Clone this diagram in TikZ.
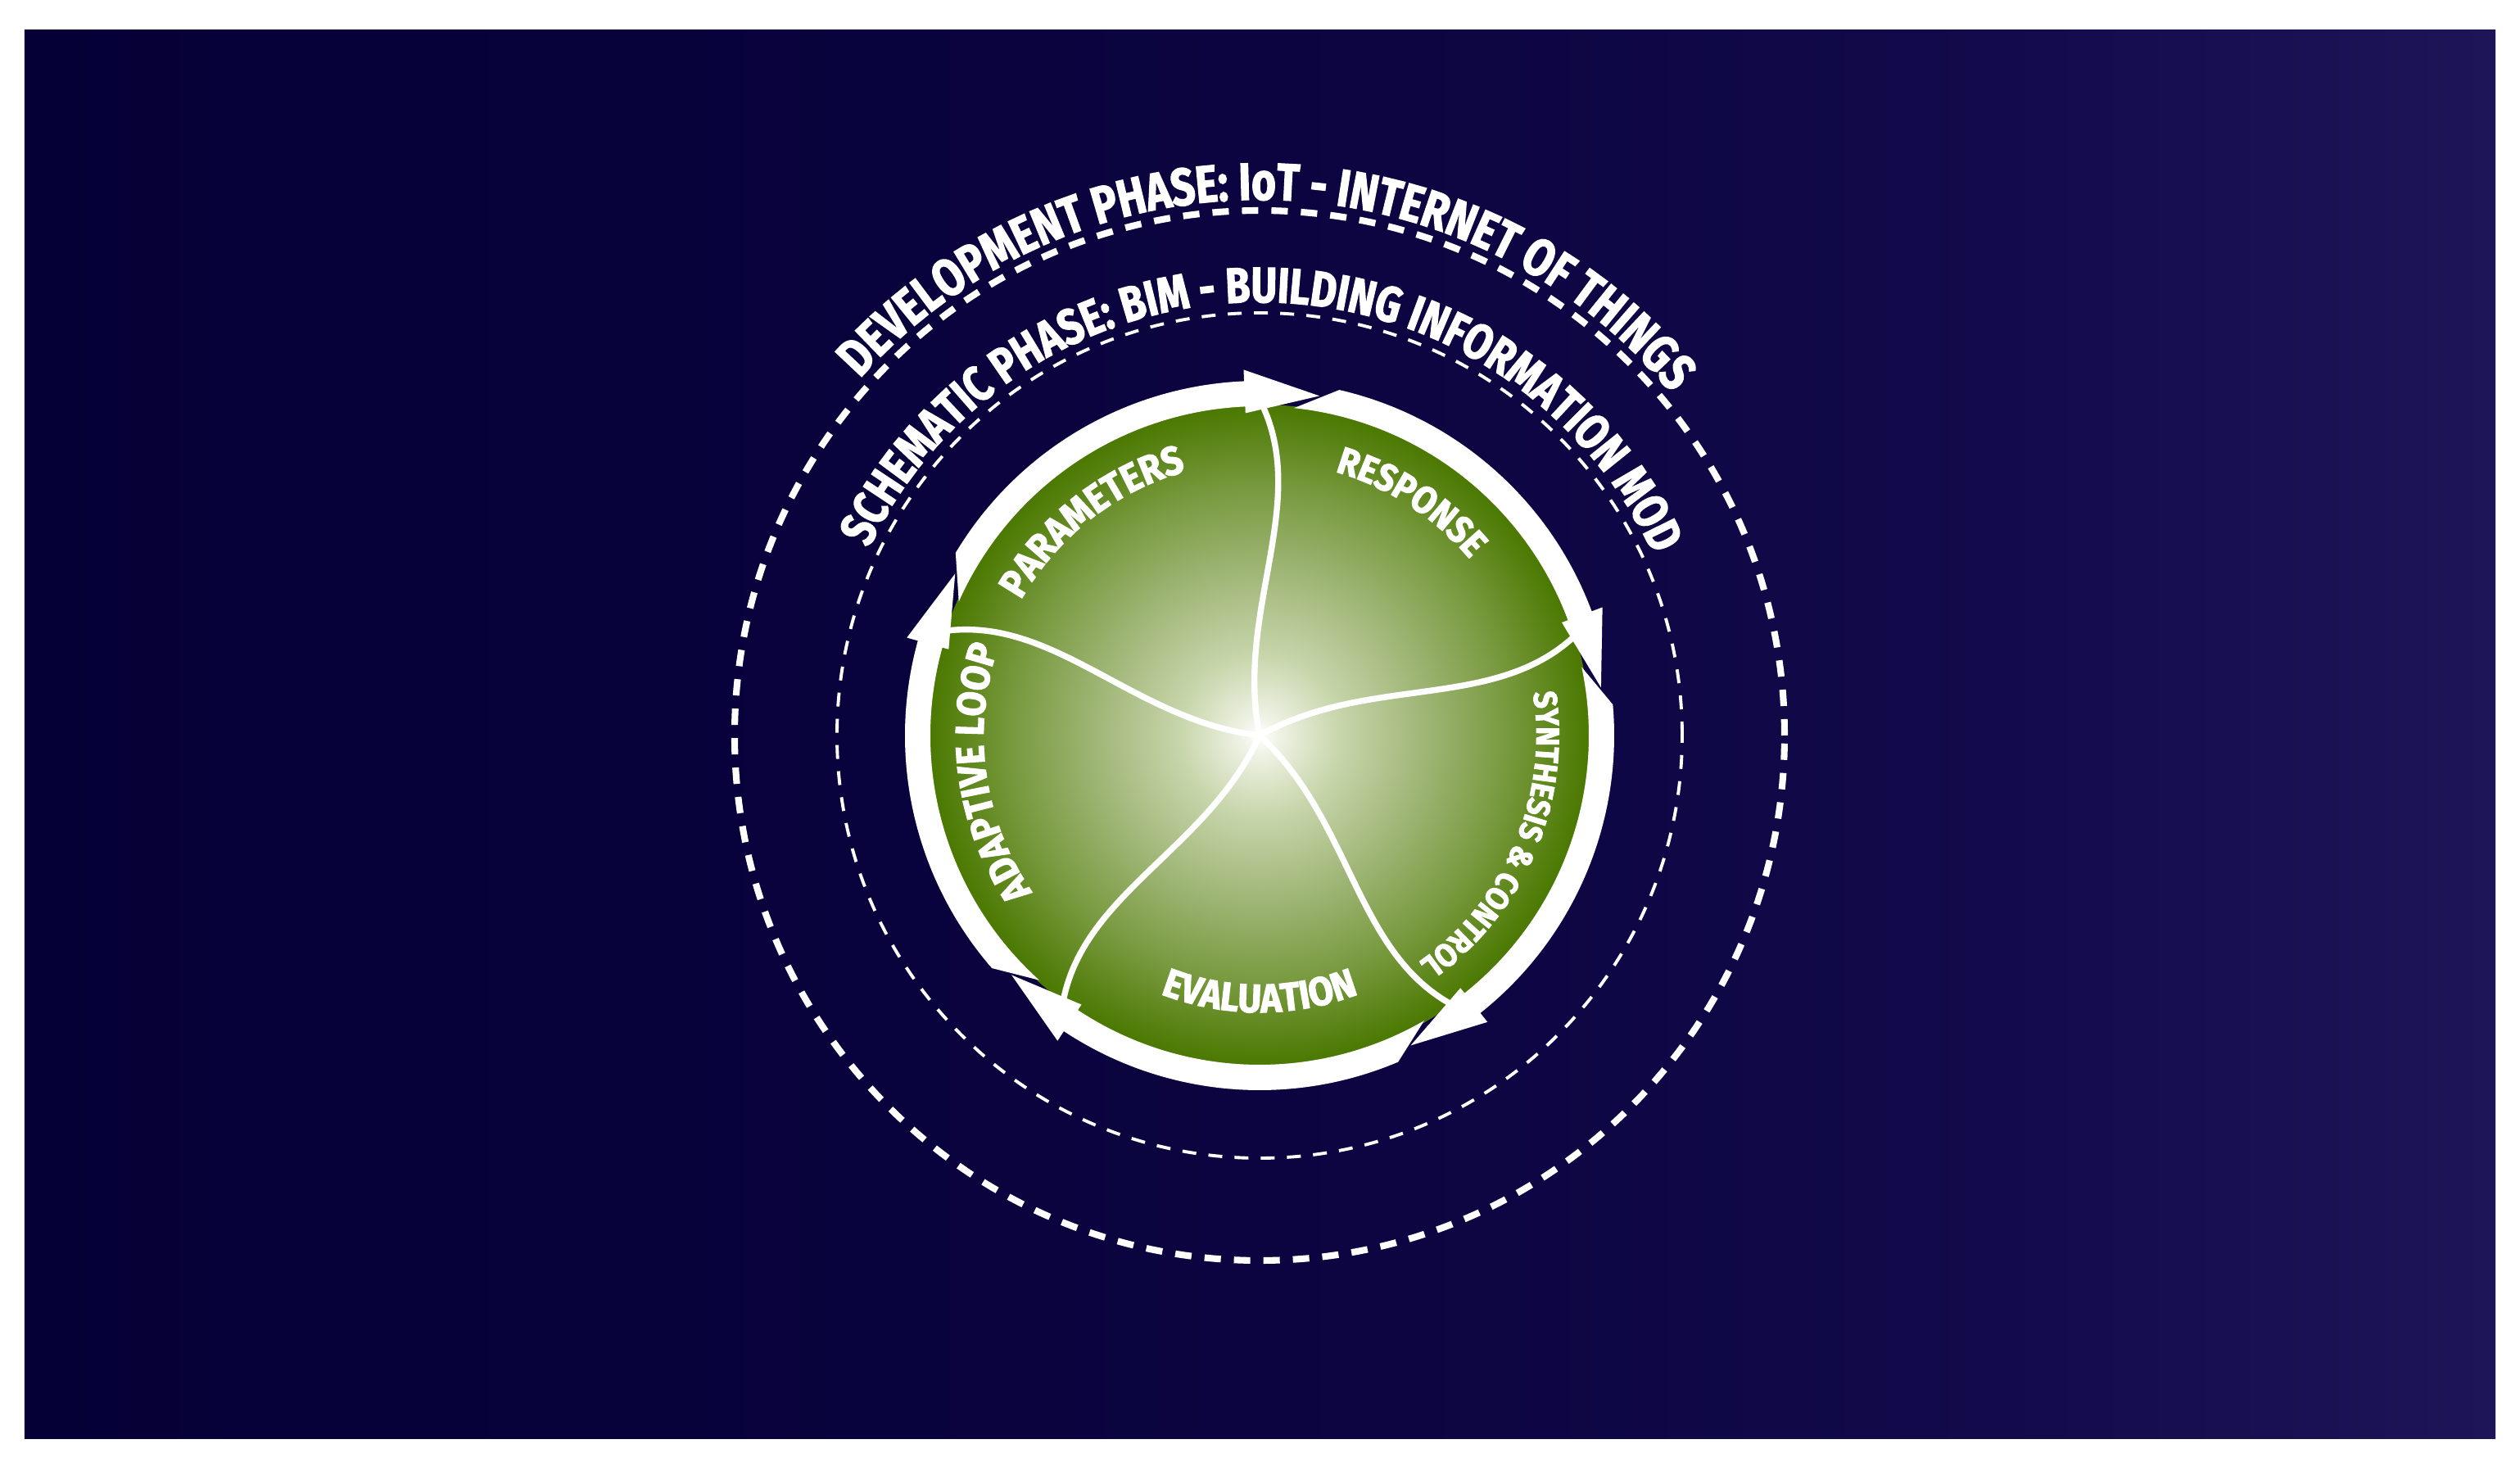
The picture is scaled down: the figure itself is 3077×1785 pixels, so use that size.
\documentclass[tikz,border=0pt]{standalone}
\usepackage{fontspec}
\usetikzlibrary{decorations.text}
\newfontfamily\outfont{Fira Sans}[FakeStretch=0.8, FakeBold=2]
\newfontfamily\labfont{Fira Sans}[FakeStretch=0.9, FakeBold=2.3]
\definecolor{bgL}{HTML}{050036}
\definecolor{bgM}{HTML}{0B0440}
\definecolor{bgN}{HTML}{120A4A}
\definecolor{bgR}{HTML}{1E1558}
\definecolor{gEdge}{HTML}{4A7800}
\definecolor{gA}{HTML}{EEF2E4}
\definecolor{gB}{HTML}{C8D6AC}
\definecolor{gC}{HTML}{A2B87A}
\definecolor{gD}{HTML}{76983C}
\pgfdeclarehorizontalshading{bgshade}{100bp}{color(0bp)=(bgL); color(25bp)=(bgL); color(50bp)=(bgM); color(65bp)=(bgN); color(75bp)=(bgR); color(100bp)=(bgR)}
\pgfdeclareradialshading{greenglow}{\pgfpoint{0bp}{0bp}}{color(0bp)=(white); color(1.5bp)=(gA); color(6bp)=(gB); color(12bp)=(gC); color(19bp)=(gD); color(25bp)=(gEdge); color(50bp)=(gEdge)}
\tikzset{
  spoke/.style={draw=white, line width=2.1pt, line cap=round},
  outerdash/.style={draw=white, line width=2.3pt, dash pattern=on 0.2cm off 0.16cm},
  innerdash/.style={draw=white, line width=1.1pt, dash pattern=on 0.17cm off 0.15cm},
  ringpart/.style={fill=white},
  outtext/.style 2 args={decorate, decoration={text along path, text color=white, text align=center, text={|\outfont\bfseries\fontsize{#1}{20pt}\selectfont|#2}}},
  labtext/.style 2 args={decorate, decoration={text along path, text color=white, text align=center, text={|\labfont\bfseries\fontsize{#1}{16pt}\selectfont|#2}}}
}
\begin{document}
\begin{tikzpicture}[x=0.01cm,y=0.01cm]
\path[use as bounding box] (-1538,-887) rectangle (1539,898);
\fill[white] (-1538,-887) rectangle (1539,898);
\shade[shading=bgshade] (-1508,-859) rectangle (1509,861);
% dashed phase circles
\draw[outerdash] (0,0) circle[radius=641];
\draw[innerdash] (0,0) circle[radius=516];
% phase texts
\path[outtext={18.2pt}{DEVELOPMENT PHASE: IoT - INTERNET OF THINGS}] (164:654) arc[start angle=164, end angle=14, radius=654];
\path[outtext={17.3pt}{SCHEMATIC PHASE: BIM - BUILDING INFORMATION MOD}] (175:529) arc[start angle=175, end angle=4, radius=529];
% green disc
\shade[shading=greenglow] (0,0) circle[radius=404];
% spokes
\foreach \k in {0,...,4}{
  \draw[spoke, rotate=-72*\k] (0,0) .. controls (-30,150) and (60,280) .. (4,402);
}
% ring with arrows
\foreach \k in {0,...,4}{
  \pgfmathsetmacro{\ta}{90-72*\k}
  \pgfmathsetmacro{\tb}{\ta-72}
  \pgfmathsetmacro{\sIn}{\ta-6}
  \pgfmathsetmacro{\sOut}{\ta-13}
  \pgfmathsetmacro{\hb}{\tb+2.5}
  \pgfmathsetmacro{\tip}{\tb-10}
  \fill[ringpart] (\sIn:402) -- (\sOut:433) arc[start angle=\sOut, end angle=\hb, radius=433]
    -- (\hb:447) -- (\tip:421) -- (\hb:394) -- (\hb:402)
    arc[start angle=\hb, end angle=\sIn, radius=402] -- cycle;
}
% sector labels
\path[labtext={13.9pt}{PARAMETERS}] (178:335) arc[start angle=178, end angle=78, radius=335];
\path[labtext={13.2pt}{RESPONSE}] (107:335) arc[start angle=107, end angle=7, radius=335];
\path[labtext={11.3pt}{SYNTHESIS {\&} CONTROL}] (37:338) arc[start angle=37, end angle=-83, radius=338];
\path[labtext={13.9pt}{EVALUATION}] (-140:338) arc[start angle=-140, end angle=-40, radius=338];
\path[labtext={13.9pt}{ADAPTIVE LOOP}] (248:337) arc[start angle=248, end angle=128, radius=337];
\end{tikzpicture}
\end{document}
